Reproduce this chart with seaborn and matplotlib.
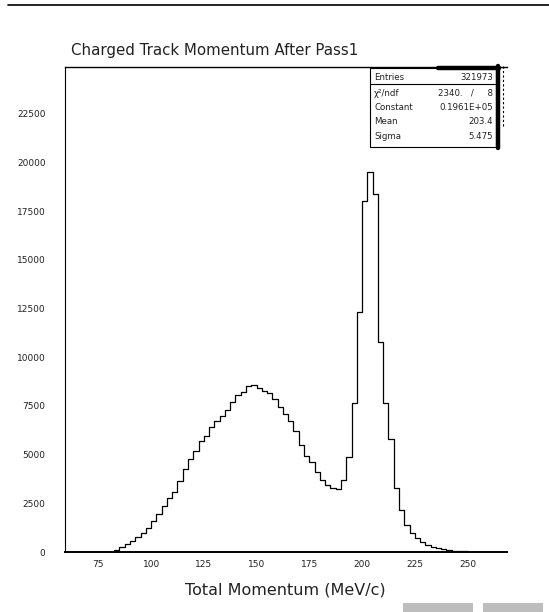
import numpy as np
import pandas as pd
import matplotlib
matplotlib.use("Agg")
import matplotlib.pyplot as plt
from matplotlib.lines import Line2D
from matplotlib.patches import Rectangle
import seaborn as sns

# ---------------- data ----------------
bin_edges = [60.0 + 2.5 * i for i in range(85)]          # 84 bins of 2.5 MeV/c
bin_counts = [
    0, 0, 0, 0, 0, 0, 0, 0, 20, 100,                     # 60 .. 85
    250, 400, 550, 790, 1000, 1250, 1600, 1950, 2350, 2750,   # 85 .. 110
    3100, 3650, 4250, 4750, 5200, 5700, 5950, 6400, 6700, 6980,  # 110 .. 135
    7300, 7700, 8050, 8220, 8500, 8550, 8400, 8250, 8150, 7880,  # 135 .. 160
    7450, 7100, 6740, 6200, 5500, 4950, 4600, 4120, 3700, 3450,  # 160 .. 185
    3300, 3250, 3700, 4900, 7640, 12330, 18000, 19500, 18400, 10800,  # 185 .. 210
    7640, 5780, 3280, 2150, 1390, 970, 700, 530, 380, 270,   # 210 .. 235
    180, 130, 90, 60, 45, 32, 24, 17, 12, 8,                # 235 .. 260
    5, 3, 2, 1,                                             # 260 .. 270
]
bin_centers = [0.5 * (a + b) for a, b in zip(bin_edges[:-1], bin_edges[1:])]

title = "Charged Track Momentum After Pass1"
x_label = "Total Momentum (MeV/c)"
x_ticks = [75, 100, 125, 150, 175, 200, 225, 250]
y_ticks = [0, 2500, 5000, 7500, 10000, 12500, 15000, 17500, 20000, 22500]
stat_names = ["Entries", "\u03c7\u00b2/ndf", "Constant", "Mean", "Sigma"]
stat_values = ["321973", "2340.   /     8", "0.1961E+05", "203.4", "5.475"]

df = pd.DataFrame({"momentum": bin_centers, "count": bin_counts})

# ---------------- figure ----------------
W, H = 549, 612
sns.set_style("white")
plt.rcParams["font.family"] = ["DejaVu Sans"]
fig = plt.figure(figsize=(W / 100, H / 100), dpi=100)

def fx(px):
    return px / W

def fy(py):
    return 1 - py / H

ax_l, ax_r, ax_t, ax_b = 65, 507, 67, 552
ax = fig.add_axes([fx(ax_l), fy(ax_b), fx(ax_r) - fx(ax_l), fy(ax_t) - fy(ax_b)])

sns.histplot(data=df, x="momentum", weights="count", bins=bin_edges,
             element="step", fill=False, color="black", linewidth=0.9, ax=ax)

ax.set_xlim(59.2, 268.7)
ax.set_ylim(0, 24900)
ax.set_xlabel("")
ax.set_ylabel("")

ax.set_xticks(x_ticks)
ax.set_xticklabels([str(t) for t in x_ticks])
ax.set_yticks(y_ticks)
ax.set_yticklabels([str(t) for t in y_ticks])
ax.set_xticks(np.arange(65, 270, 5), minor=True)
ax.set_yticks(np.arange(0, 24900, 500), minor=True)
ax.tick_params(axis="both", which="major", direction="in", length=7, width=1.0,
               labelsize=6.5, colors="#222222")
ax.tick_params(axis="both", which="minor", direction="in", length=3, width=0.8)
ax.tick_params(axis="x", which="major", pad=6)
ax.tick_params(axis="y", which="major", pad=14)

for side in ["left", "bottom", "top"]:
    ax.spines[side].set_visible(True)
    ax.spines[side].set_color("black")
ax.spines["left"].set_linewidth(0.8)
ax.spines["bottom"].set_linewidth(1.4)
ax.spines["top"].set_linewidth(1.0)
ax.spines["right"].set_visible(False)
ax.grid(False)

# title and axis label (placed like the original scan)
fig.text(fx(215), fy(51), title, ha="center", va="center", fontsize=10.8,
         color="#222222")
fig.text(fx(285), fy(590), x_label, ha="center", va="center", fontsize=11.5,
         color="#222222")

# page rule at top of the scan
fig.add_artist(Line2D([fx(8), fx(549)], [fy(5), fy(5)], color="black", lw=1.2))
# grey scan marks bottom-right
fig.add_artist(Rectangle((fx(403), fy(612)), fx(70), fy(603) - fy(612),
                         color="#bdbdbd", lw=0))
fig.add_artist(Rectangle((fx(483), fy(612)), fx(60), fy(603) - fy(612),
                         color="#bdbdbd", lw=0))

# ---------------- stats box ----------------
bx_l, bx_r, bx_t, bx_b = 370, 496, 68, 147
fig.add_artist(Rectangle((fx(bx_l), fy(bx_b)), fx(bx_r) - fx(bx_l), fy(bx_t) - fy(bx_b),
                         facecolor="white", edgecolor="black", lw=0.8, zorder=5))
# shadow (thick top and right)
fig.add_artist(Line2D([fx(438), fx(499)], [fy(67.5), fy(67.5)], color="black", lw=3.2, zorder=6))
fig.add_artist(Line2D([fx(497.5), fx(497.5)], [fy(66), fy(148)], color="black", lw=3.2, zorder=6))
fig.add_artist(Line2D([fx(502.5), fx(502.5)], [fy(66), fy(128)], color="black", lw=0.8,
                      ls=(0, (2, 2)), zorder=6))
fig.add_artist(Line2D([fx(bx_l), fx(bx_r)], [fy(84), fy(84)], color="black", lw=0.8, zorder=6))

row_y = [77, 93, 107.5, 122, 136.5]
for name, val, yy in zip(stat_names, stat_values, row_y):
    fig.text(fx(374), fy(yy), name, ha="left", va="center", fontsize=6.2,
             color="#222222", zorder=7)
    fig.text(fx(493), fy(yy), val, ha="right", va="center", fontsize=6.2,
             color="#222222", zorder=7)

fig.savefig("out.png", dpi=100, facecolor="white")
